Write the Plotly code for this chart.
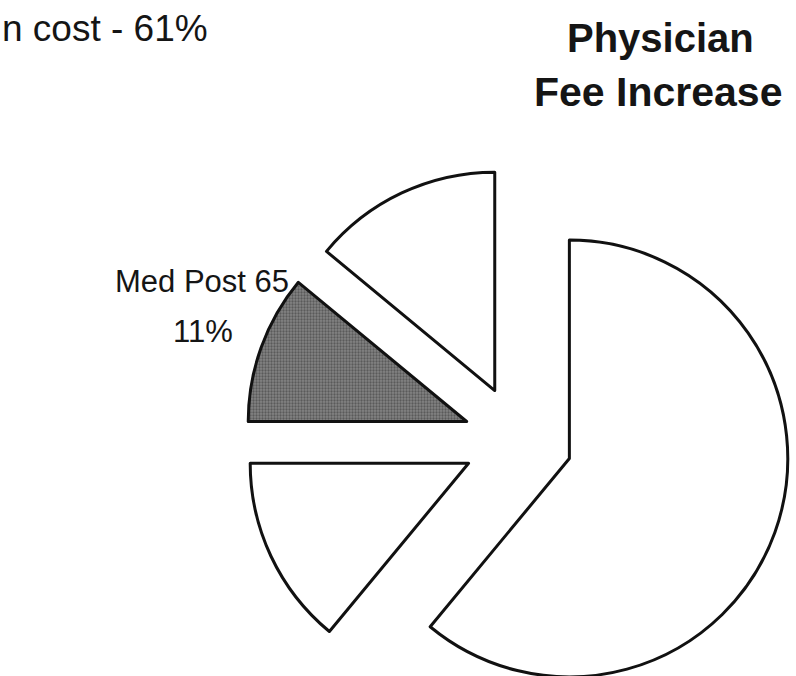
import plotly.graph_objects as go

# Share of the physician fee increase, clockwise from 12 o'clock
categories = ["Operation cost", "Med Pre 65", "Med Post 65", "Other"]
shares = [61, 14, 11, 14]
slice_fill = ["white", "white", "#848484", "white"]
slice_texture = ["", "", ".", ""]

title_lines = ["Physician", "Fee Increase"]
cost_label = "n cost - 61%"
post65_label = ["Med Post 65", "11%"]

W, H = 796, 713
FONT = "Liberation Sans, Arial, sans-serif"
INK = "#151515"

fig = go.Figure(
    go.Pie(
        labels=categories,
        values=shares,
        sort=False,
        direction="clockwise",
        rotation=0,
        pull=[0.25, 0.25, 0.25, 0.25],
        textinfo="none",
        hoverinfo="label+percent",
        showlegend=False,
        marker=dict(
            colors=slice_fill,
            line=dict(color="#111111", width=3),
            pattern=dict(
                shape=slice_texture,
                fillmode="replace",
                bgcolor=slice_fill,
                fgcolor="#5a5a5a",
                size=3,
                solidity=0.45,
            ),
        ),
        domain=dict(x=[245 / W, 791 / W], y=[0, (H - 167) / H]),
    )
)


def py(px):
    return 1 - px / H


def label(text, x, y, size, bold=False, xanchor="center"):
    fig.add_annotation(
        x=x / W, y=py(y), xref="paper", yref="paper",
        xanchor=xanchor, yanchor="middle",
        text=f"<b>{text}</b>" if bold else text,
        showarrow=False, align="center",
        font=dict(family=FONT, size=size, color=INK),
    )


label(title_lines[0], 660, 38, 40, bold=True)
label(title_lines[1], 658, 92, 41, bold=True)
label(cost_label, 0, 28, 37, xanchor="left")
label(post65_label[0], 202, 281, 31)
label(post65_label[1], 203, 331, 31)

fig.update_layout(
    width=W, height=H,
    margin=dict(l=0, r=0, t=0, b=0),
    paper_bgcolor="white", plot_bgcolor="white",
)

fig.write_html("out.html")
